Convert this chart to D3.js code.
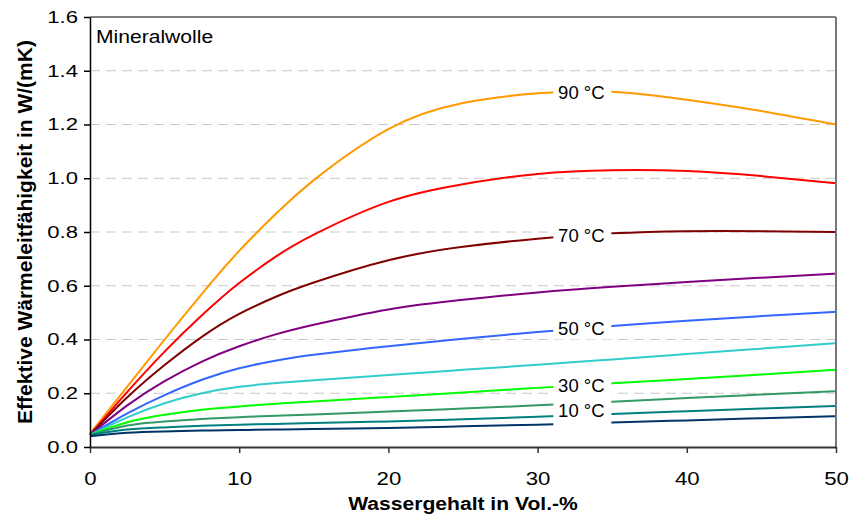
<!DOCTYPE html>
<html>
  <head>
    <meta charset="utf-8">
    <script src="https://d3js.org/d3.v7.min.js"></script>
    <style>
      body { margin: 0; background: #fff; }
      text { font-family: "Liberation Sans", Arial, sans-serif; }
    </style>
  </head>
  <body>
  <div id='chart'></div>

    <script type="text/javascript">

// water content in Vol.-%
var water = [0, 2.5, 5, 7.5, 10, 12.5, 15, 20, 25, 30, 35, 40, 45, 50];

// effective conductivity W/(mK), one array per temperature
var t90 = [0.05, 0.225, 0.40, 0.57, 0.73, 0.87, 0.993, 1.183, 1.28, 1.316, 1.322, 1.292, 1.25, 1.20];
var t80 = [0.045, 0.205, 0.355, 0.49, 0.61, 0.71, 0.79, 0.912, 0.978, 1.016, 1.03, 1.027, 1.008, 0.981];
var t70 = [0.045, 0.185, 0.305, 0.41, 0.495, 0.56, 0.612, 0.695, 0.745, 0.775, 0.795, 0.803, 0.803, 0.80];
var t60 = [0.045, 0.155, 0.245, 0.318, 0.375, 0.42, 0.455, 0.512, 0.548, 0.575, 0.596, 0.614, 0.63, 0.645];
var t50 = [0.045, 0.125, 0.193, 0.25, 0.293, 0.322, 0.343, 0.375, 0.403, 0.428, 0.45, 0.47, 0.487, 0.503];
var t40 = [0.045, 0.11, 0.163, 0.2, 0.224, 0.238, 0.248, 0.268, 0.287, 0.306, 0.326, 0.346, 0.366, 0.386];
var t30 = [0.045, 0.092, 0.12, 0.139, 0.151, 0.161, 0.169, 0.186, 0.203, 0.22, 0.237, 0.253, 0.27, 0.287];
var t20 = [0.045, 0.08, 0.095, 0.104, 0.111, 0.116, 0.121, 0.132, 0.143, 0.155, 0.168, 0.182, 0.195, 0.208];
var t10 = [0.045, 0.065, 0.073, 0.079, 0.083, 0.086, 0.089, 0.095, 0.103, 0.113, 0.123, 0.133, 0.143, 0.153];
var t0  = [0.04, 0.053, 0.058, 0.061, 0.063, 0.065, 0.067, 0.071, 0.077, 0.083, 0.091, 0.099, 0.107, 0.115];

var temps  = [90, 80, 70, 60, 50, 40, 30, 20, 10, 0];
var values = [t90, t80, t70, t60, t50, t40, t30, t20, t10, t0];
var colors = ["#ff9900", "#ff0000", "#800000", "#800080", "#3366ff", "#33cccc", "#00ff00", "#339966", "#008080", "#003366"];

var labelTemps = [90, 70, 50, 30, 10];
var labelAt = 33; // Vol.-% where the labels sit

var xTicks = [0, 10, 20, 30, 40, 50];
var yTicks = [0, 0.2, 0.4, 0.6, 0.8, 1.0, 1.2, 1.4, 1.6];

var w = 850, h = 519;
var margin = {left: 90, right: 14, top: 17, bottom: 72};

var x = d3.scaleLinear().domain([0, 50]).range([margin.left, w - margin.right]);
var y = d3.scaleLinear().domain([0, 1.6]).range([h - margin.bottom, margin.top]);

var svg = d3.select("#chart").append("svg")
    .attr("width", w)
    .attr("height", h);

// grid
svg.append("g")
    .selectAll("line")
    .data(yTicks.filter(function(d){ return d > 0 && d < 1.6; }))
    .enter().append("line")
    .attr("x1", x(0)).attr("x2", x(50))
    .attr("y1", function(d){ return y(d); })
    .attr("y2", function(d){ return y(d); })
    .attr("stroke", "#c8c8c8")
    .attr("stroke-width", 1)
    .attr("stroke-dasharray", "10,6");

// curves
var line = d3.line()
    .x(function(d){ return x(d[0]); })
    .y(function(d){ return y(d[1]); })
    .curve(d3.curveNatural);

svg.append("g")
    .selectAll("path")
    .data(values)
    .enter().append("path")
    .attr("d", function(v){ return line(water.map(function(wc, i){ return [wc, v[i]]; })); })
    .attr("fill", "none")
    .attr("stroke", function(d, i){ return colors[i]; })
    .attr("stroke-width", 2);

// labels with white boxes cutting the lines
function valueAt(v, xv) {
  var i = d3.bisectLeft(water, xv);
  var t = (xv - water[i - 1]) / (water[i] - water[i - 1]);
  return v[i - 1] + t * (v[i] - v[i - 1]);
}

var labels = svg.append("g");
labelTemps.forEach(function(t) {
  var v = values[temps.indexOf(t)];
  var cy = y(valueAt(v, labelAt));
  if (t == 10) cy -= 5;
  var bh = t == 10 ? 30 : 22;
  var by = t == 10 ? cy - 12 : cy - bh / 2;
  labels.append("rect")
    .attr("x", x(labelAt) - 29)
    .attr("y", by)
    .attr("width", 58)
    .attr("height", bh)
    .attr("fill", "#fff");
  labels.append("text")
    .attr("x", x(labelAt) - 1)
    .attr("y", cy)
    .attr("dy", "0.36em")
    .attr("text-anchor", "middle")
    .attr("font-size", "18.5px")
    .attr("fill", "#000")
    .text(t + " °C");
});

// frame
svg.append("line")
    .attr("x1", x(0)).attr("x2", x(50))
    .attr("y1", y(1.6)).attr("y2", y(1.6))
    .attr("stroke", "#000").attr("stroke-width", 1);
svg.append("line")
    .attr("x1", x(50)).attr("x2", x(50))
    .attr("y1", y(1.6)).attr("y2", y(0))
    .attr("stroke", "#777").attr("stroke-width", 2);

// axes
var xAxis = svg.append("g")
    .attr("transform", "translate(0," + y(0) + ")")
    .call(d3.axisBottom(x).tickValues(xTicks).tickSize(6).tickSizeOuter(0));
xAxis.select(".domain").attr("stroke", "#333").attr("stroke-width", 2);
xAxis.selectAll(".tick line").attr("stroke", "#333").attr("stroke-width", 1.5);
xAxis.selectAll("text")
    .attr("y", 38).attr("dy", null)
    .attr("transform", "scale(1.2,1)")
    .attr("font-size", "18.5px").attr("fill", "#000")
    .style("font-family", "'Liberation Sans', Arial, sans-serif");

var yAxis = svg.append("g")
    .attr("transform", "translate(" + x(0) + ",0)")
    .call(d3.axisLeft(y).tickValues(yTicks).tickFormat(d3.format(".1f")).tickSize(6).tickSizeOuter(0));
yAxis.select(".domain").attr("stroke", "#000").attr("stroke-width", 1.5);
yAxis.selectAll(".tick line").attr("stroke", "#000").attr("stroke-width", 1.5);
yAxis.selectAll("text")
    .attr("x", -12 / 1.3)
    .attr("transform", "scale(1.3,1)")
    .attr("font-size", "17px").attr("fill", "#000")
    .style("font-family", "'Liberation Sans', Arial, sans-serif");

// titles
svg.append("text")
    .attr("transform", "translate(" + ((x(0) + x(50)) / 2) + ",510) scale(1.14,1)")
    .attr("text-anchor", "middle")
    .attr("font-size", "18.5px")
    .attr("font-weight", "bold")
    .text("Wassergehalt in Vol.-%");

svg.append("text")
    .attr("transform", "translate(32," + ((y(0) + y(1.6)) / 2) + ") rotate(-90)")
    .attr("text-anchor", "middle")
    .attr("font-size", "21px")
    .attr("font-weight", "bold")
    .text("Effektive Wärmeleitfähigkeit in W/(mK)");

svg.append("text")
    .attr("transform", "translate(96,43) scale(1.14,1)")
    .attr("font-size", "18.5px")
    .text("Mineralwolle");

    </script>
  </body>
</html>
